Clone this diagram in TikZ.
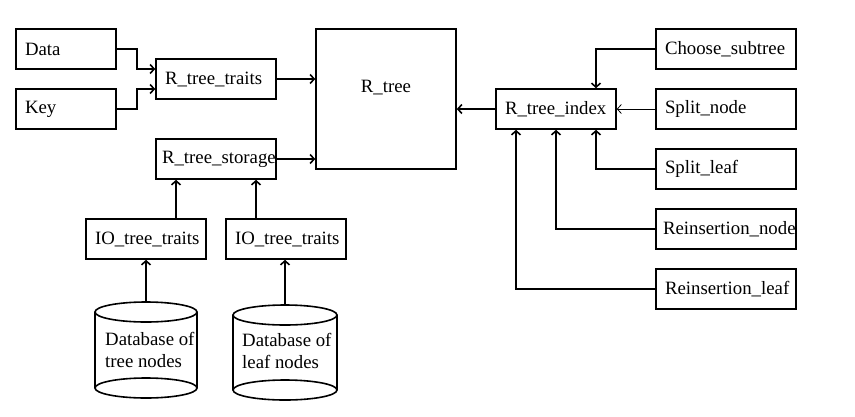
\documentclass[tikz,border=0pt]{standalone}
\usepackage{fontspec}
\setmainfont{Liberation Serif}
\usetikzlibrary{arrows.meta}
\tikzset{box/.style={draw,line width=1.6pt,inner xsep=9pt,inner ysep=0pt,minimum height=40pt,align=left,text width=#1},
box/.default=102pt,
arr/.style={line width=1.6pt,-{Straight Barb[length=4pt,width=9pt]}},
db/.style={line width=1.6pt}}
\begin{document}
\begin{tikzpicture}[x=1pt,y=-1pt,font=\fontsize{18.8}{21.5}\selectfont]
\useasboundingbox(0,0)rectangle(855,416);
\node[box=82pt](data)at(66,49){Data};
\node[box=82pt](key)at(66,109){Key};
\node[box](traits)at(216,79){R\_tree\_traits};
\node[box,inner xsep=6pt,text width=108pt](storage)at(216,159){R\_tree\_storage};
\node[draw,line width=1.6pt,minimum size=140pt,label={[yshift=11pt]center:R\_tree}](rtree)at(386,99){};
\node[box](index)at(556,109){R\_tree\_index};
\node[box=122pt](choose)at(726,49){Choose\_subtree};
\node[box=122pt](splitn)at(726,109){Split\_node};
\node[box=122pt](splitl)at(726,169){Split\_leaf};
\node[box=122pt,inner xsep=7pt,text width=126pt](reinn)at(726,229){Reinsertion\_node};
\node[box=122pt](reinl)at(726,289){Reinsertion\_leaf};
\node[box](ioa)at(146,239){IO\_tree\_traits};
\node[box](iob)at(286,239){IO\_tree\_traits};
\begin{scope}[shift={(146,350)}]
\draw[db](-51,-38)--(-51,38)(51,-38)--(51,38);
\draw[db](0,-38)ellipse[x radius=51,y radius=10];
\draw[db](0,38)ellipse[x radius=51,y radius=10];
\coordinate(dbatop)at(0,-48);
\end{scope}
\begin{scope}[shift={(285,352)}]
\draw[db](-52,-37)--(-52,38)(52,-37)--(52,38);
\draw[db](0,-37)ellipse[x radius=52,y radius=10];
\draw[db](0,38)ellipse[x radius=52,y radius=10];
\coordinate(dbbtop)at(0,-47);
\end{scope}
\node[anchor=west,align=left,inner sep=0pt](dbatext)at(105,350){Database of\\tree nodes};
\node[anchor=west,align=left,inner sep=0pt](dbbtext)at(242,351){Database of\\leaf nodes};
\draw[arr](data.east)--++(20,0)|-([yshift=10pt]traits.west);
\draw[arr](key.east)--++(20,0)|-([yshift=-10pt]traits.west);
\draw[arr](traits.east)--(traits.east-|rtree.west);
\draw[arr](storage.east)--(storage.east-|rtree.west);
\draw[arr](index.west)--(index.west-|rtree.east);
\draw[arr](choose.west)-|([xshift=40pt]index.north);
\draw[arr,line width=0.8pt](splitn.west)--(index.east);
\draw[arr](splitl.west)-|([xshift=40pt]index.south);
\draw[arr](reinn.west)-|(index.south);
\draw[arr](reinl.west)-|([xshift=-40pt]index.south);
\draw[arr]([xshift=30pt]ioa.north)--([xshift=-40pt]storage.south);
\draw[arr]([xshift=-30pt]iob.north)--([xshift=40pt]storage.south);
\draw[arr](dbatop)--(ioa.south);
\draw[arr](dbbtop)--(dbbtop|-iob.south);
\end{tikzpicture}
\end{document}
